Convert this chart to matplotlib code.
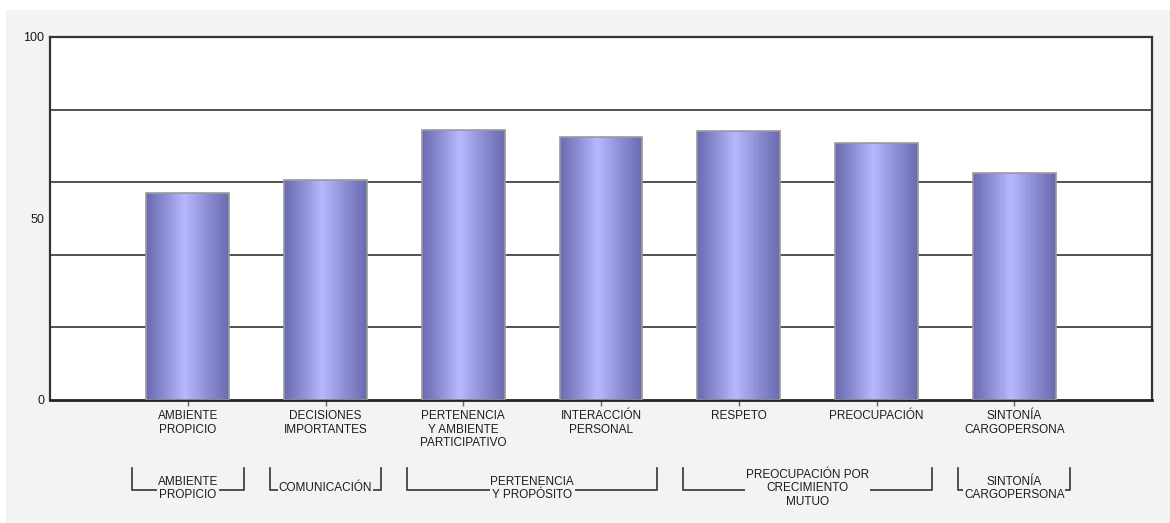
import matplotlib
matplotlib.use("Agg")
import matplotlib.pyplot as plt
import numpy as np
from matplotlib.patches import Rectangle
from matplotlib.transforms import blended_transform_factory

plt.rcParams['font.family'] = ['Liberation Sans', 'DejaVu Sans']

# dimensiones evaluadas y su puntaje
categorias = ["AMBIENTE\nPROPICIO", "DECISIONES\nIMPORTANTES",
              "PERTENENCIA\nY AMBIENTE\nPARTICIPATIVO", "INTERACCIÓN\nPERSONAL",
              "RESPETO", "PREOCUPACIÓN", "SINTONÍA\nCARGOPERSONA"]
puntajes = [57.0, 60.6, 74.4, 72.5, 74.1, 70.8, 62.5]

# agrupaciones de dimensiones (primera y última categoría, 1-based)
grupos = ["AMBIENTE\nPROPICIO", "COMUNICACIÓN", "PERTENENCIA\nY PROPÓSITO",
          "PREOCUPACIÓN POR\nCRECIMIENTO\nMUTUO", "SINTONÍA\nCARGOPERSONA"]
grupos_desde = [1, 2, 3, 5, 7]
grupos_hasta = [1, 2, 4, 6, 7]

y_ticks = [0, 50, 100]
y_grid = [20, 40, 60, 80]

fondo = "#f3f3f3"
texto = "#1c1c1c"

fig = plt.figure(figsize=(11.7, 5.23), dpi=100)
fig.patch.set_facecolor("white")
fig.patches.append(Rectangle((6 / 1170, 0), 1, 513 / 523, transform=fig.transFigure,
                             facecolor=fondo, edgecolor="none", zorder=-10))

ax = fig.add_axes([50 / 1170, 123 / 523, 1102 / 1170, 363 / 523])
ax.set_facecolor("white")

# degradado horizontal: franjas finas dentro de cada barra
n = 48
t = (np.arange(n) + 0.5) / n
centro = 0.46
perfil = np.where(t < centro, t / centro, (1 - t) / (1 - centro)) ** 1.1
oscuro = np.array([0.42, 0.42, 0.70])
claro = np.array([0.72, 0.72, 1.00])
colores = oscuro[None, :] + perfil[:, None] * (claro - oscuro)[None, :]

ancho = 0.6
x = np.arange(1, len(categorias) + 1)
paso = ancho / n
for k in range(n):
    ax.bar(x - ancho / 2 + (k + 0.5) * paso, puntajes, width=paso * 1.02,
           color=colores[k], linewidth=0, antialiased=False, zorder=2)
ax.bar(x, puntajes, width=ancho, facecolor="none", edgecolor="#9a9a9a",
       linewidth=1.2, zorder=3)

for g in y_grid:
    ax.axhline(g, color="#333333", linewidth=1.2, zorder=1)

ax.set_xlim(0, len(categorias) + 1)
ax.set_ylim(0, 100)

ax.set_yticks(y_ticks)
ax.set_yticklabels([str(v) for v in y_ticks], fontsize=9, color=texto)
ax.tick_params(axis="y", length=0, pad=4)

ax.set_xticks(x)
ax.set_xticklabels(categorias, fontsize=8.5, color=texto, linespacing=1.2)
ax.tick_params(axis="x", length=4, width=1, color="#666666", pad=3)

for lado in ["top", "left", "right"]:
    ax.spines[lado].set_color("#333333")
    ax.spines[lado].set_linewidth(1.6)
ax.spines["bottom"].set_color("#222222")
ax.spines["bottom"].set_linewidth(2)

# llaves de agrupación bajo el eje
tr = blended_transform_factory(ax.transData, ax.transAxes)
y_arriba = -68 / 363
y_linea = -90 / 363
for nombre, a, b in zip(grupos, grupos_desde, grupos_hasta):
    x0 = a - 0.405
    x1 = b + 0.405
    ax.plot([x0, x0, x1, x1], [y_arriba, y_linea, y_linea, y_arriba],
            color="#333333", linewidth=1.2, transform=tr, clip_on=False)
    ax.text((x0 + x1) / 2, y_linea + 0.005, nombre, transform=tr, ha="center", va="center",
            fontsize=8.5, color=texto, linespacing=1.15,
            bbox=dict(facecolor=fondo, edgecolor="none", pad=0.5))

fig.savefig("out.png", dpi=100, facecolor=fig.get_facecolor())
